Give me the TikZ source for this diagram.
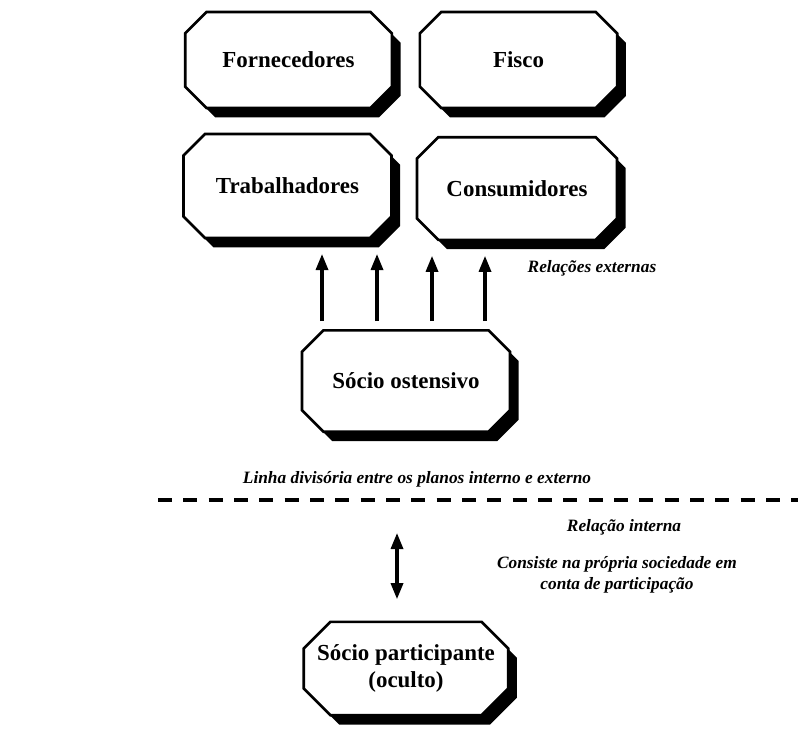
\documentclass[tikz,border=0pt]{standalone}
\usepackage{fontspec}
\setmainfont{Liberation Serif}
\usetikzlibrary{shapes.misc,shadows,arrows.meta,calc}
\tikzset{
  box/.style={chamfered rectangle, chamfered rectangle xsep=10pt, chamfered rectangle ysep=10pt,
    draw=black, line width=2pt, fill=white, inner sep=0pt, align=center,
    font=\bfseries\fontsize{17.2}{20}\selectfont,
    drop shadow={shadow xshift=6.5pt, shadow yshift=-7pt, fill=black, opacity=1}},
  lbl/.style={font=\bfseries\itshape\fontsize{13}{15.5}\selectfont, align=center, inner sep=0pt},
  arr/.style={line width=2.4pt, -{Triangle[length=12pt,width=9pt]}},
  darr/.style={line width=2.4pt, {Triangle[length=12pt,width=9pt]}-{Triangle[length=12pt,width=9pt]}}
}
\begin{document}
\begin{tikzpicture}[x=0.75pt,y=-0.75pt]
\useasboundingbox (0,0) rectangle (798,728);
\node[box, minimum width=155pt, minimum height=72pt] (forn) at (288.5,60) {Fornecedores};
\node[box, minimum width=148pt, minimum height=72pt] (fisco) at (518.5,60) {Fisco};
\node[box, minimum width=156pt, minimum height=78pt] (trab) at (287.5,186) {Trabalhadores};
\node[box, minimum width=150pt, minimum height=77pt] (cons) at (517,188.5) {Consumidores};
\node[box, minimum width=156pt, minimum height=76pt] (ost) at (406,381) {Sócio ostensivo};
\node[box, minimum width=151pt, minimum height=70pt] (part) at (406,668.5) {Sócio participante\\(oculto)};

\coordinate (s1) at (322,330);
\coordinate (s2) at (377,330);
\coordinate (s3) at (432,330);
\coordinate (s4) at (485,330);
\draw[arr, shorten <=6pt, shorten >=11pt] (s1 |- ost.north) -- (s1 |- trab.south);
\draw[arr, shorten <=6pt, shorten >=11pt] (s2 |- ost.north) -- (s2 |- trab.south);
\draw[arr, shorten <=6pt, shorten >=11pt] (s3 |- ost.north) -- (s3 |- cons.south);
\draw[arr, shorten <=6pt, shorten >=11pt] (s4 |- ost.north) -- (s4 |- cons.south);

\node[lbl] (rext) at (592,268) {Relações externas};
\node[lbl] (linha) at (417,479) {Linha divisória entre os planos interno e externo};
\coordinate (dl) at (158,500);
\coordinate (dr) at (798,500);
\draw[line width=2.4pt, dash pattern=on 10.5pt off 8.5pt] (dl) -- (dr);

\coordinate (ia) at (397,533);
\coordinate (ib) at (397,622);
\draw[darr, shorten >=16pt] (ia) -- (ib |- part.north);

\node[lbl] (rint) at (624,527) {Relação interna};
\node[lbl] (cons2) at (617,575) {Consiste na própria sociedade em\\conta de participação};
\end{tikzpicture}
\end{document}
